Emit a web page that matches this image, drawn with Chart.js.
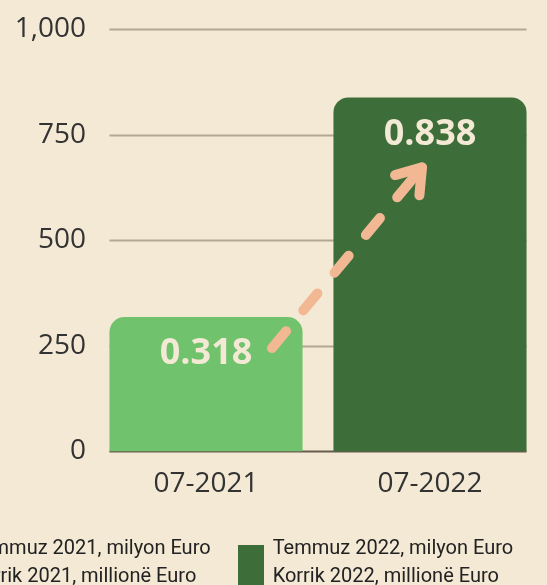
<!DOCTYPE html>
<html lang="tr">
<head>
  <meta charset="UTF-8" />
  <title>Temmuz 2021 - 2022</title>
  <script src="https://cdn.jsdelivr.net/npm/chart.js"></script>
  <style>
    html, body { margin: 0; padding: 0; background: #f3e9d4; overflow: hidden; }
    #wrap { position: relative; width: 547px; height: 585px; }
    #leyenda {
      position: absolute; left: -65px; top: 533px;
      display: flex; gap: 27px;
      font-family: Roboto, sans-serif; font-size: 20px; line-height: 28px;
      color: #222; white-space: nowrap;
    }
    .item { display: flex; align-items: flex-start; gap: 9px; }
    .caja { width: 26px; height: 44px; margin-top: 12px; }
  </style>
</head>
<body>
<div id="wrap">
  <canvas id="grafica" width="547" height="585"></canvas>
  <div id="leyenda"></div>
</div>

<script>
  const categorias = ['07-2021', '07-2022'];
  const valores = [318, 838];
  const etiquetasValor = ['0.318', '0.838'];
  const colores = ['#71c26c', '#3d6e3a'];
  const textosLeyenda = [
    ['Temmuz 2021, milyon Euro', 'Korrik 2021, millionë Euro'],
    ['Temmuz 2022, milyon Euro', 'Korrik 2022, millionë Euro']
  ];
  const ticksY = [0, 250, 500, 750, 1000];

  // leyenda en HTML (texto en dos lineas)
  const leyenda = document.getElementById('leyenda');
  textosLeyenda.forEach((lineas, i) => {
    const item = document.createElement('div');
    item.className = 'item';
    const caja = document.createElement('div');
    caja.className = 'caja';
    caja.style.background = colores[i];
    const txt = document.createElement('div');
    txt.innerHTML = lineas.join('<br>');
    item.appendChild(caja);
    item.appendChild(txt);
    leyenda.appendChild(item);
  });

  // lineas de la cuadricula solo sobre el ancho de las barras
  const cuadricula = {
    id: 'cuadricula',
    beforeDatasetsDraw(chart) {
      const barras = chart.getDatasetMeta(0).data;
      const izq = barras[0].x - barras[0].width / 2;
      const der = barras[barras.length - 1].x + barras[barras.length - 1].width / 2;
      const y = chart.scales.y;
      const ctx = chart.ctx;
      ctx.save();
      ticksY.forEach(v => {
        const py = Math.round(y.getPixelForValue(v)) + 0.5;
        ctx.strokeStyle = v === 0 ? '#675c50' : '#b2a893';
        ctx.lineWidth = 2;
        ctx.beginPath();
        ctx.moveTo(izq, py);
        ctx.lineTo(der, py);
        ctx.stroke();
      });
      ctx.restore();
    }
  };

  // valores dentro de las barras + flecha punteada
  const etiquetas = {
    id: 'etiquetas',
    afterDatasetsDraw(chart) {
      const barras = chart.getDatasetMeta(0).data;
      const ctx = chart.ctx;
      ctx.save();

      // flecha
      const b0 = barras[0], b1 = barras[1];
      const x0 = b0.x + 66, y0 = b0.y + 31;
      const x1 = b1.x - 8, y1 = b1.y + 70;
      const ang = Math.atan2(y1 - y0, x1 - x0);
      ctx.strokeStyle = '#f2b894';
      ctx.lineWidth = 10;
      ctx.lineCap = 'round';
      ctx.lineJoin = 'round';
      ctx.setLineDash([22, 27]);
      ctx.beginPath();
      ctx.moveTo(x0, y0);
      ctx.lineTo(x1 - 30 * Math.cos(ang), y1 - 30 * Math.sin(ang));
      ctx.stroke();
      ctx.setLineDash([]);
      ctx.beginPath();
      ctx.moveTo(x1 - 28 * Math.cos(ang), y1 - 28 * Math.sin(ang));
      ctx.lineTo(x1, y1);
      ctx.stroke();
      const punta = 28, abre = 0.6;
      ctx.beginPath();
      ctx.moveTo(x1 - punta * Math.cos(ang - abre), y1 - punta * Math.sin(ang - abre));
      ctx.lineTo(x1, y1);
      ctx.lineTo(x1 - punta * Math.cos(ang + abre), y1 - punta * Math.sin(ang + abre));
      ctx.stroke();

      // textos
      ctx.fillStyle = '#f3e9d4';
      ctx.font = 'bold 36px "Open Sans"';
      ctx.textAlign = 'center';
      ctx.textBaseline = 'middle';
      barras.forEach((b, i) => {
        ctx.fillText(etiquetasValor[i], b.x, b.y + 37);
      });
      ctx.restore();
    }
  };

  const ctx = document.getElementById('grafica').getContext('2d');
  new Chart(ctx, {
    type: 'bar',
    data: {
      labels: categorias,
      datasets: [{
        data: valores,
        backgroundColor: colores,
        borderRadius: 15,
        borderSkipped: 'start',
        categoryPercentage: 1,
        barPercentage: 0.862
      }]
    },
    options: {
      responsive: false,
      animation: false,
      layout: { padding: { top: 29, right: 5, bottom: 68, left: 0 } },
      plugins: {
        legend: { display: false },
        tooltip: { enabled: false }
      },
      scales: {
        y: {
          min: 0,
          max: 1000,
          afterBuildTicks(scale) { scale.ticks = ticksY.map(v => ({ value: v })); },
          afterFit(scale) { scale.width = 94; },
          grid: { display: false, drawTicks: false },
          border: { display: false },
          ticks: {
            padding: 8,
            color: '#333',
            font: { family: 'Open Sans', size: 28, weight: 400 },
            callback: v => v.toLocaleString('en-US')
          }
        },
        x: {
          grid: { display: false, drawTicks: false },
          border: { display: false },
          ticks: {
            padding: 16,
            color: '#333',
            font: { family: 'Open Sans', size: 28, weight: 400 }
          }
        }
      }
    },
    plugins: [cuadricula, etiquetas]
  });
</script>
</body>
</html>
